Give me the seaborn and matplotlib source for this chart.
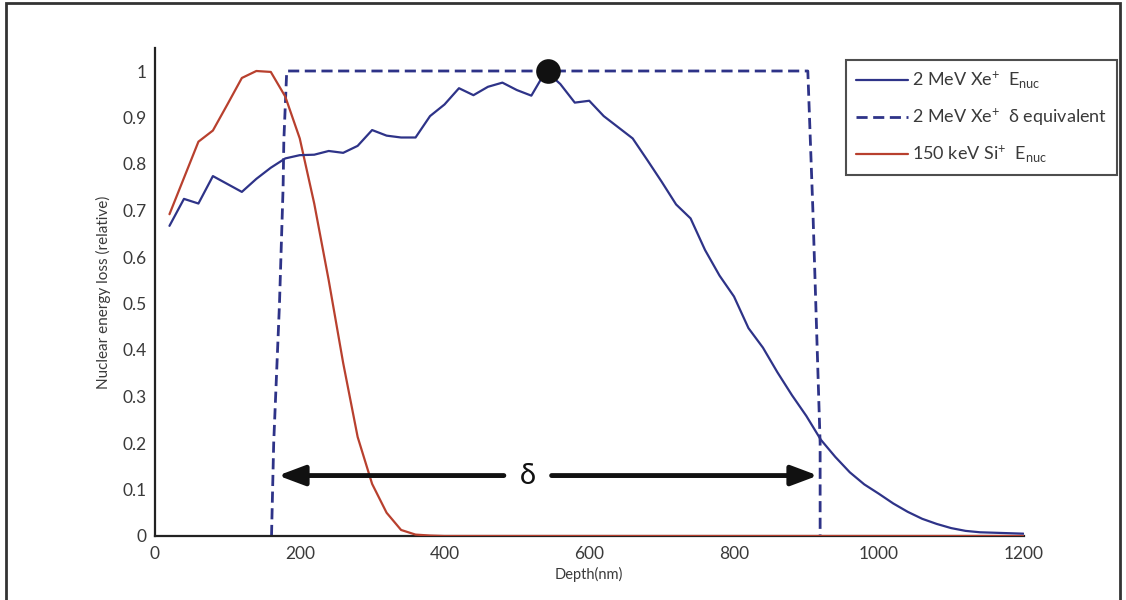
import matplotlib
matplotlib.use("Agg")
import matplotlib.pyplot as plt
import seaborn as sns
import pandas as pd
from matplotlib.lines import Line2D
from matplotlib.patches import Rectangle

# ---------------- data ----------------
depth = [20, 40, 60, 80, 100, 120, 140, 160, 180, 200,
         220, 240, 260, 280, 300, 320, 340, 360, 380, 400,
         420, 440, 460, 480, 500, 520, 540, 560, 580, 600,
         620, 640, 660, 680, 700, 720, 740, 760, 780, 800,
         820, 840, 860, 880, 900, 920, 940, 960, 980, 1000,
         1020, 1040, 1060, 1080, 1100, 1120, 1140, 1160, 1180, 1200]
xe_enuc = [0.667, 0.725, 0.715, 0.774, 0.757, 0.740, 0.768, 0.792, 0.812, 0.819,
           0.820, 0.828, 0.824, 0.839, 0.873, 0.861, 0.857, 0.857, 0.903, 0.928,
           0.963, 0.948, 0.966, 0.975, 0.959, 0.947, 1.000, 0.972, 0.932, 0.936,
           0.903, 0.879, 0.855, 0.809, 0.762, 0.713, 0.683, 0.615, 0.560, 0.515,
           0.447, 0.405, 0.352, 0.303, 0.258, 0.207, 0.170, 0.137, 0.111, 0.091,
           0.070, 0.052, 0.037, 0.026, 0.017, 0.011, 0.008, 0.007, 0.006, 0.005]
si_enuc = [0.692, 0.770, 0.848, 0.872, 0.928, 0.985, 1.000, 0.998, 0.945, 0.855,
           0.715, 0.550, 0.372, 0.213, 0.112, 0.050, 0.013, 0.003, 0.001, 0.0,
           0.0, 0.0, 0.0, 0.0, 0.0, 0.0, 0.0, 0.0, 0.0, 0.0,
           0.0, 0.0, 0.0, 0.0, 0.0, 0.0, 0.0, 0.0, 0.0, 0.0,
           0.0, 0.0, 0.0, 0.0, 0.0, 0.0, 0.0, 0.0, 0.0, 0.0,
           0.0, 0.0, 0.0, 0.0, 0.0, 0.0, 0.0, 0.0, 0.0, 0.0]
delta_depth = [161, 164, 172, 177, 178, 182, 902, 909, 919, 919]
delta_level = [0.0, 0.2, 0.5, 0.75, 0.85, 1.0, 1.0, 0.7, 0.2, 0.0]
peak_depth = [543]
peak_level = [1.0]
arrow_left = [170, 482]
arrow_right = [548, 916]
arrow_level = 0.13
delta_center = 515

xticks = [0, 200, 400, 600, 800, 1000, 1200]
yticks = [0, 0.1, 0.2, 0.3, 0.4, 0.5, 0.6, 0.7, 0.8, 0.9, 1.0]
ytick_labels = ["0", "0.1", "0.2", "0.3", "0.4", "0.5", "0.6", "0.7", "0.8", "0.9", "1"]

labels = [r"2 MeV Xe$^{+}$  E$_{\rm nuc}$",
          r"2 MeV Xe$^{+}$  $\delta$ equivalent",
          r"150 keV Si$^{+}$  E$_{\rm nuc}$"]

# ---------------- style ----------------
sns.set_theme(style="white")
plt.rcParams["font.family"] = ["Lato", "DejaVu Sans"]
plt.rcParams["mathtext.fontset"] = "custom"
plt.rcParams["mathtext.rm"] = "Lato"
plt.rcParams["mathtext.it"] = "Lato"
plt.rcParams["mathtext.bf"] = "Lato"

blue = "#2e3388"
red = "#b8402e"
gray = "#3a3a3a"

fig = plt.figure(figsize=(11.26, 6.0), dpi=100)
ax = fig.add_axes([155 / 1126, 1 - 536 / 600, (1023.5 - 155) / 1126, (536 - 47.75) / 600])

df_xe = pd.DataFrame({"depth": depth, "val": xe_enuc})
df_si = pd.DataFrame({"depth": depth, "val": si_enuc})
df_d = pd.DataFrame({"depth": delta_depth, "val": delta_level})

sns.lineplot(data=df_si, x="depth", y="val", ax=ax, color=red, lw=1.6, sort=False,
             estimator=None, zorder=3)
sns.lineplot(data=df_d, x="depth", y="val", ax=ax, color=blue, lw=2.0, sort=False,
             estimator=None, zorder=2, linestyle=(0, (4, 2)))
sns.lineplot(data=df_xe, x="depth", y="val", ax=ax, color=blue, lw=1.6, sort=False,
             estimator=None, zorder=4)
sns.scatterplot(x=peak_depth, y=peak_level, ax=ax, color="#111111", s=270,
                edgecolor="#111111", zorder=6, clip_on=False)

# delta arrows
astyle = "-|>,head_length=0.8,head_width=0.3"
ax.annotate("", xy=(arrow_left[0], arrow_level), xytext=(arrow_left[1], arrow_level),
            arrowprops=dict(arrowstyle=astyle, lw=3.5, color="#111111",
                            mutation_scale=20, shrinkA=0, shrinkB=0),
            zorder=7)
ax.annotate("", xy=(arrow_right[1], arrow_level), xytext=(arrow_right[0], arrow_level),
            arrowprops=dict(arrowstyle=astyle, lw=3.5, color="#111111",
                            mutation_scale=20, shrinkA=0, shrinkB=0),
            zorder=7)
ax.text(delta_center, arrow_level, "δ", fontsize=21, ha="center", va="center",
        color="#111111", family=["Lato", "DejaVu Sans"])

ax.set_xlim(0, 1200)
ax.set_ylim(0, 1.05)
ax.set_xticks(xticks)
ax.set_xticklabels([str(t) for t in xticks])
ax.set_yticks(yticks)
ax.set_yticklabels(ytick_labels)
ax.tick_params(axis="both", direction="in", length=6, width=1.5, colors="#222222",
               labelcolor=gray, labelsize=12.5)
ax.tick_params(axis="y", pad=6)
ax.tick_params(axis="x", pad=7)
for s in ["top", "right"]:
    ax.spines[s].set_visible(False)
for s in ["left", "bottom"]:
    ax.spines[s].set_linewidth(1.6)
    ax.spines[s].set_color("#222222")

ax.set_xlabel("Depth(nm)", fontsize=10.5, color=gray, labelpad=4)
ax.set_ylabel("Nuclear energy loss (relative)", fontsize=11, color=gray, labelpad=8)

handles = [Line2D([], [], color=blue, lw=1.6),
           Line2D([], [], color=blue, lw=2.0, linestyle=(0, (4, 2))),
           Line2D([], [], color=red, lw=1.6)]
leg = fig.legend(handles, labels, loc="upper left",
                 bbox_to_anchor=(846 / 1126, 1 - 60 / 600), bbox_transform=fig.transFigure,
                 borderaxespad=0, fontsize=13, frameon=True, fancybox=False,
                 handlelength=2.9, handletextpad=0.2, labelspacing=0.85,
                 borderpad=0.55)
leg.get_frame().set_edgecolor("#222222")
leg.get_frame().set_linewidth(1.5)
for t in leg.get_texts():
    t.set_color(gray)

# outer frame
fig.patches.append(Rectangle((6 / 1126, -0.02), (1120 - 6) / 1126, 1.02 - 3 / 600,
                             transform=fig.transFigure, fill=False, edgecolor="#333333",
                             lw=2.0, zorder=0))

fig.savefig("out.png", dpi=100)
